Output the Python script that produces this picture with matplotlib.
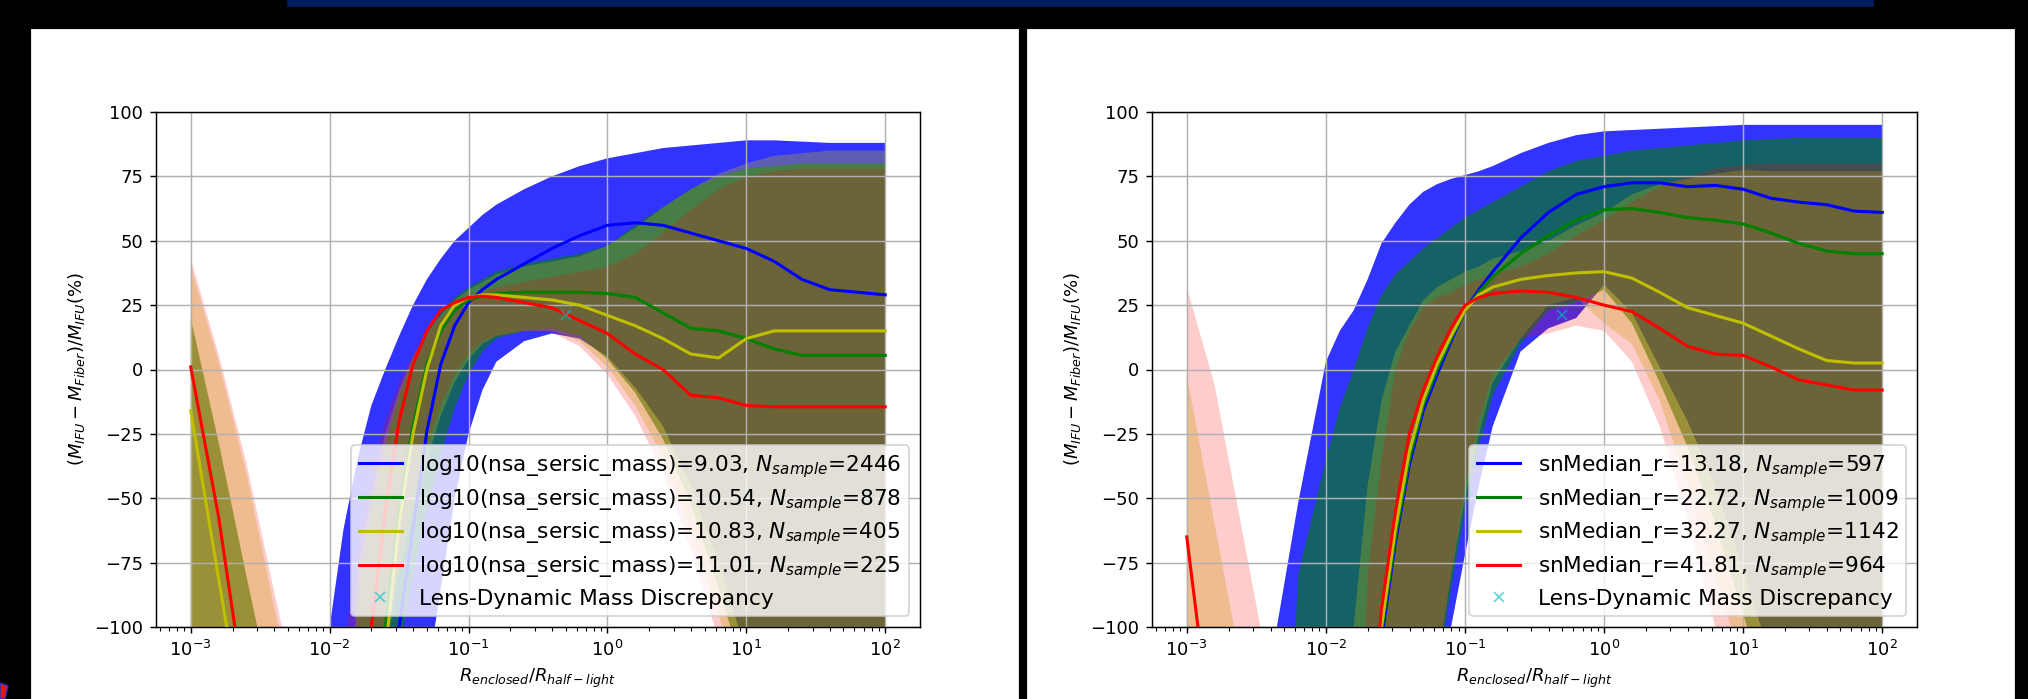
#Two panels of mass discrepancy vs enclosed radius, bands are 16-84 percentiles
import numpy as np
import matplotlib.pyplot as plt
from matplotlib.patches import Rectangle, Polygon

#log10 of R_enclosed/R_half-light
log_r = [-3.0, -2.8, -2.6, -2.4, -2.2, -2.0, -1.9, -1.8, -1.7, -1.6, -1.5, -1.4,
         -1.3, -1.2, -1.1, -1.0, -0.9, -0.8, -0.6, -0.4, -0.2, 0.0, 0.2, 0.4,
         0.6, 0.8, 1.0, 1.2, 1.4, 1.6, 1.8, 2.0]
r = 10.0**np.array(log_r)

lens_r = [0.5]
lens_dm = [21]

mass_labels = ["log10(nsa_sersic_mass)=9.03, $N_{sample}$=2446",
               "log10(nsa_sersic_mass)=10.54, $N_{sample}$=878",
               "log10(nsa_sersic_mass)=10.83, $N_{sample}$=405",
               "log10(nsa_sersic_mass)=11.01, $N_{sample}$=225"]
sn_labels = ["snMedian_r=13.18, $N_{sample}$=597",
             "snMedian_r=22.72, $N_{sample}$=1009",
             "snMedian_r=32.27, $N_{sample}$=1142",
             "snMedian_r=41.81, $N_{sample}$=964"]

#left panel: mass bins (values below -100 are off the axes)
mass_b_med = [-300,-300,-300,-300,-300,-300,-300,-300,-220,-150,-100,-62,-24,2,17,26,31,35,41,47,52,56,57,56,53,50,47,42,35,31,30,29]
mass_b_lo = [-300,-300,-300,-300,-300,-300,-300,-300,-300,-300,-300,-300,-120,-85,-50,-25,-8,3,11,14,12,5,-7,-22,-45,-75,-110,-150,-200,-250,-300,-300]
mass_b_hi = [-300,-300,-300,-300,-170,-100,-62,-35,-14,0,13,25,35,43,50,55,60,64,70,75,79,82,84,86,87,88,89,89,88.5,88,88,88]

mass_g_med = [-300,-300,-300,-300,-300,-300,-300,-300,-160,-100,-55,-22,2,15,23,27,28.5,29.5,30,30,30,29.5,28,22,16,15,12,8,5.5,5.5,5.5,5.5]
mass_g_lo = [-300,-300,-300,-300,-300,-300,-300,-300,-300,-300,-110,-80,-55,-33,-15,-2,7,12,15,16,13,4,-9,-27,-52,-85,-120,-160,-200,-250,-300,-300]
mass_g_hi = [20,-28,-80,-130,-200,-250,-250,-90,-55,-30,-10,4,14,22,28,32,35,38,41,43,45,48,56,63,70,75,78,79,80,80,80,80]

mass_y_med = [-16,-81,-145,-300,-300,-300,-300,-250,-170,-110,-60,-25,0,17,25,28,29,29,28,27,25,21,17,12,6,4.5,12,15,15,15,15,15]
mass_y_lo = [-300,-300,-300,-300,-300,-300,-300,-300,-300,-110,-80,-55,-35,-18,-5,4,10,13,15,15,11,1,-14,-34,-62,-95,-130,-170,-220,-300,-300,-300]
mass_y_hi = [40,3,-40,-92,-140,-250,-200,-80,-48,-25,-8,5,14,21,27,31,34,37,40,42,44,48,55,63,70,76,80,83,84,85,85,85]

mass_r_med = [1,-57,-130,-300,-300,-300,-300,-150,-100,-55,-20,2,15,23,26,28,28.5,28,26,24,19,14,6,0,-10,-11,-14,-14.5,-14.5,-14.5,-14.5,-14.5]
mass_r_lo = [-300,-300,-300,-300,-300,-300,-300,-300,-300,-105,-75,-50,-30,-14,-2,6,11,13,15,14.5,9,-2,-18,-40,-70,-105,-140,-180,-230,-300,-300,-300]
mass_r_hi = [43,6,-36,-86,-135,-250,-110,-70,-40,-20,-5,6,14,20,25,28,30,32,34,36,38,40,45,53,62,70,75,77,78,78,78,78]

#right panel: S/N bins
sn_b_med = [-300,-300,-300,-300,-300,-300,-300,-300,-160,-105,-67,-37,-16,-2,11,23,31,38,51,61,68,71,72.5,72.5,71,71.5,70,66.5,65,64,61.5,61]
sn_b_lo = [-300,-300,-300,-300,-300,-300,-300,-300,-300,-300,-300,-300,-300,-140,-100,-72,-45,-22,7,16,20,33,22,1,-20,-45,-78,-112,-150,-200,-300,-300]
sn_b_hi = [-300,-300,-300,-115,-52,3,15,23,35,49,57,64,69,72,74,75.5,77,79,84,88,91,92.5,93,93.5,94,94.5,95,95,95,95,95,95]

sn_g_med = [-300,-300,-300,-300,-300,-300,-300,-300,-160,-102,-65,-35,-14,0,12,23,30,36,45,52,58,62,62.5,61,59,58,56.5,53,49,46,45,45]
sn_g_lo = [-300,-300,-300,-300,-300,-300,-300,-300,-300,-300,-300,-300,-150,-120,-85,-55,-30,-10,10,23,26,31,18,-5,-30,-60,-95,-130,-170,-220,-300,-300]
sn_g_hi = [-300,-300,-300,-300,-80,-35,-15,0,16,29,37,42,47,51,55,59,62,65,71,77,81,83,85,86,87,88,89,89.5,90,90,90,90]

sn_y_med = [-300,-300,-300,-300,-300,-300,-300,-300,-160,-100,-62,-32,-12,2,13,23,29,32,35,36.5,37.5,38,35.5,30,24,21,18,13,8,3.5,2.5,2.5]
sn_y_lo = [-300,-300,-300,-300,-300,-300,-300,-300,-300,-300,-300,-300,-150,-115,-80,-50,-25,-5,12,25,28,18,10,-12,-45,-80,-115,-150,-200,-300,-300,-300]
sn_y_hi = [-2,-60,-117,-300,-300,-300,-160,-100,-45,-12,7,17,27,32,35,38,40,43,46,50,56,61,68,72,74,76,77.5,77,77,77,77,77]

sn_r_med = [-65,-152,-300,-300,-300,-300,-300,-300,-150,-93,-55,-25,-8,5,16,25,28,29.5,30.5,30,28,25,22.5,16,9,6,5.5,1,-4,-6,-8,-8]
sn_r_lo = [-300,-300,-300,-300,-300,-300,-300,-300,-300,-300,-300,-300,-160,-115,-80,-45,-20,-2,12,14,17,15,3,-22,-58,-100,-140,-200,-300,-300,-300,-300]
sn_r_hi = [32,-6,-63,-120,-300,-300,-300,-200,-80,-35,0,15,24,28,30,33,35,37,40,45,52,58,65,71,75,78,79.5,80,80,80,80,80]


W, H = 2028, 699
def box(x0, y0, x1, y1):
    #pixel box (top-left origin) -> figure fraction rect
    return [x0/W, 1-y1/H, (x1-x0)/W, (y1-y0)/H]

fig = plt.figure(figsize=(W/130, H/130), dpi=130, facecolor="black")

#slide decorations, kept behind the axes
fig.add_artist(Rectangle((288/W, 1-6/H), (1873-288)/W, 6/H, transform=fig.transFigure,
                         color="#001d5c", zorder=-10))
fig.add_artist(Rectangle((32/W, 0), (1018-32)/W, 1-30/H, transform=fig.transFigure,
                         color="white", zorder=-10))
fig.add_artist(Rectangle((1028/W, 0), (2014-1028)/W, 1-30/H, transform=fig.transFigure,
                         color="white", zorder=-10))
fig.add_artist(Polygon([(0, 1-683/H), (8/W, 1-686/H), (5/W, 0), (0, 0)], closed=True,
                       transform=fig.transFigure, facecolor="#e01818", edgecolor="#2030c0",
                       linewidth=0.8, zorder=-10))


def draw_panel(ax, meds, los, his, labels):
    colors = ["b", "g", "y", "r"]
    alphas = [0.8, 0.6, 0.3, 0.2]
    for lo, hi, c, a in zip(los, his, colors, alphas):
        ax.fill_between(r, lo, hi, color=c, alpha=a, linewidth=0)
    for med, c, lab in zip(meds, colors, labels):
        ax.plot(r, med, color=c, label=lab, linewidth=1.7, zorder=3)
    ax.plot(lens_r, lens_dm, "x", color="c", alpha=0.6, label="Lens-Dynamic Mass Discrepancy", zorder=3)
    ax.set_xscale("log")
    ax.set_xlim(10**-3.25, 10**2.25)
    ax.set_ylim(-100, 100)
    ax.set_yticks([-100, -75, -50, -25, 0, 25, 50, 75, 100])
    ax.grid(True)
    ax.set_xlabel("$R_{enclosed}/R_{half-light}$")
    ax.set_ylabel("$(M_{IFU}-M_{Fiber})/M_{IFU}(\\%)$")
    ax.legend(loc="lower right", fontsize=12, labelspacing=0.33, borderpad=0.35,
              handlelength=2.0)


ax1 = fig.add_axes(box(156, 112, 920, 627))
draw_panel(ax1, [mass_b_med, mass_g_med, mass_y_med, mass_r_med],
           [mass_b_lo, mass_g_lo, mass_y_lo, mass_r_lo],
           [mass_b_hi, mass_g_hi, mass_y_hi, mass_r_hi], mass_labels)

ax2 = fig.add_axes(box(1152, 112, 1917, 627))
draw_panel(ax2, [sn_b_med, sn_g_med, sn_y_med, sn_r_med],
           [sn_b_lo, sn_g_lo, sn_y_lo, sn_r_lo],
           [sn_b_hi, sn_g_hi, sn_y_hi, sn_r_hi], sn_labels)

fig.savefig("out.png", dpi=130, facecolor="black")
